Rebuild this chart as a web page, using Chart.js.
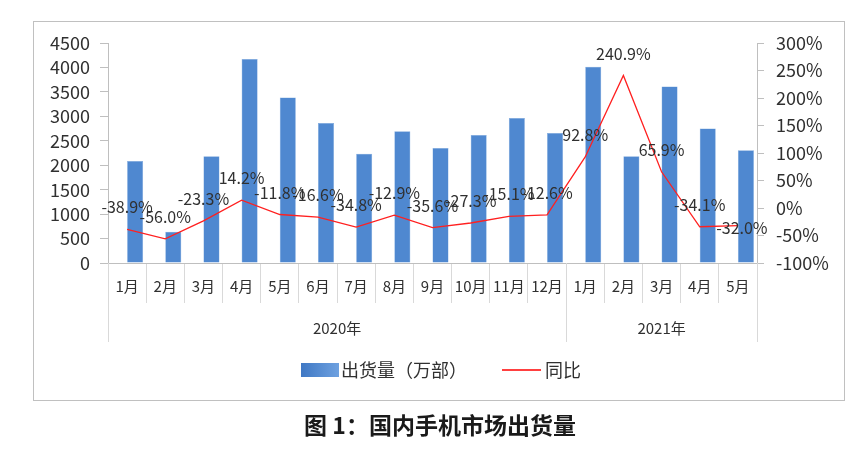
<!DOCTYPE html>
<html>
<head>
<meta charset="utf-8">
<script src="https://cdn.jsdelivr.net/npm/chart.js@4"></script>
<style>
  html, body { margin: 0; padding: 0; background: #fff; }
  #wrap { width: 864px; height: 449px; }
</style>
</head>
<body>
<div id="wrap"><canvas id="myChart"></canvas></div>
<script>
const months = ['1月', '2月', '3月', '4月', '5月', '6月', '7月', '8月', '9月', '10月', '11月', '12月', '1月', '2月', '3月', '4月', '5月'];
const years = ['2020年', '2021年'];
const yearSpans = [12, 5];
const shipments = [2085, 639, 2184, 4173, 3386, 2865, 2236, 2694, 2350, 2616, 2968, 2660, 4012, 2185, 3610, 2750, 2304];
const yoy = [-38.9, -56.0, -23.3, 14.2, -11.8, -16.6, -34.8, -12.9, -35.6, -27.3, -15.1, -12.6, 92.8, 240.9, 65.9, -34.1, -32.0];
const legendNames = ['出货量（万部）', '同比'];
const titleText = '图 1：国内手机市场出货量';

const FONT = "'Noto Sans CJK SC', 'Noto Sans', sans-serif";
const TXT = '#303030';
const BAR = '#4f88d0';

// labels on the red line
const lineLabels = {
    id: 'lineLabels',
    afterDatasetsDraw(chart) {
        const ctx = chart.ctx;
        const meta = chart.getDatasetMeta(2);
        ctx.save();
        ctx.font = '16px ' + FONT;
        ctx.fillStyle = TXT;
        ctx.textAlign = 'center';
        ctx.textBaseline = 'middle';
        meta.data.forEach((pt, i) => {
            let dx = 0, dy = -22;
            if (i === yoy.length - 1) { dx = 4; dy = 2; }
            ctx.fillText(yoy[i].toFixed(1) + '%', pt.x + dx, pt.y + dy);
        });
        ctx.restore();
    }
};

// border, year row, legend and caption
const frame = {
    id: 'frame',
    afterDraw(chart) {
        const ctx = chart.ctx;
        const area = chart.chartArea;
        const step = (area.right - area.left) / months.length;
        ctx.save();
        ctx.strokeStyle = '#c0c0c0';
        ctx.lineWidth = 1;
        ctx.strokeRect(33.5, 21.5, 811, 379);

        // year grouping
        ctx.strokeStyle = '#d9d9d9';
        ctx.font = '15px ' + FONT;
        ctx.fillStyle = TXT;
        ctx.textAlign = 'center';
        ctx.textBaseline = 'middle';
        let start = 0;
        const edges = [0];
        yearSpans.forEach((n, k) => {
            const l = area.left + start * step;
            const r = area.left + (start + n) * step;
            ctx.fillText(years[k], (l + r) / 2, 328);
            start += n;
            edges.push(start);
        });
        edges.forEach(e => {
            const px = Math.round(area.left + e * step) + 0.5;
            ctx.beginPath();
            ctx.moveTo(px, area.bottom);
            ctx.lineTo(px, 342);
            ctx.stroke();
        });

        // legend
        const g = ctx.createLinearGradient(301, 0, 339, 0);
        g.addColorStop(0, '#3f78c4');
        g.addColorStop(1, '#6ea1e0');
        ctx.fillStyle = g;
        ctx.fillRect(301, 363, 38, 14);
        ctx.font = '18px ' + FONT;
        ctx.fillStyle = TXT;
        ctx.textAlign = 'left';
        ctx.fillText(legendNames[0], 341, 370);
        ctx.strokeStyle = 'red';
        ctx.lineWidth = 1.5;
        ctx.beginPath();
        ctx.moveTo(502, 370);
        ctx.lineTo(541, 370);
        ctx.stroke();
        ctx.fillText(legendNames[1], 545, 370);

        // caption
        ctx.font = 'bold 23px ' + FONT;
        ctx.fillStyle = '#1a1a1a';
        ctx.textAlign = 'center';
        ctx.fillText(titleText, 440, 425);
        ctx.restore();
    }
};

var ctx = document.getElementById('myChart').getContext('2d');
// eslint-disable-next-line no-undef
new Chart(ctx, {
    type: 'bar',
    data: {
        labels: months,
        datasets: [
            { // empty slot so the bars sit right of the category centre
                data: months.map(() => null),
                backgroundColor: 'rgba(0,0,0,0)',
                yAxisID: 'y',
                order: 1
            },
            {
                label: legendNames[0],
                data: shipments,
                backgroundColor: BAR,
                borderColor: '#7aa6dc',
                borderWidth: 0.5,
                yAxisID: 'y',
                order: 2
            },
            {
                type: 'line',
                label: legendNames[1],
                data: yoy,
                borderColor: '#ff2020',
                borderWidth: 1.3,
                pointRadius: 0,
                tension: 0,
                yAxisID: 'y1',
                order: 0
            }
        ]
    },
    options: {
        responsive: true,
        maintainAspectRatio: false,
        animation: false,
        datasets: {
            bar: { categoryPercentage: 0.84, barPercentage: 1.0 }
        },
        layout: { padding: { left: 40, right: 20, top: 43, bottom: 106 } },
        plugins: {
            legend: { display: false },
            tooltip: { enabled: false }
        },
        scales: {
            x: {
                offset: true,
                grid: { offset: true, drawOnChartArea: false, drawTicks: true, tickLength: 40, color: '#d9d9d9' },
                border: { color: '#bfbfbf' },
                ticks: {
                    autoSkip: false, maxRotation: 0, padding: -26,
                    color: TXT, font: { family: FONT, size: 15 }
                },
                afterFit(scale) { scale.height = 80; }
            },
            y: {
                position: 'left',
                min: 0, max: 4500,
                ticks: {
                    stepSize: 500, autoSkip: false, padding: 10, color: TXT, font: { family: FONT, size: 18 },
                    callback: v => String(v)
                },
                grid: { drawOnChartArea: false, tickLength: 8, color: '#bfbfbf' },
                border: { color: '#bfbfbf' },
                afterFit(scale) { scale.width = 68; }
            },
            y1: {
                position: 'right',
                min: -100, max: 300,
                ticks: {
                    stepSize: 50, autoSkip: false, padding: 12, color: TXT, font: { family: FONT, size: 18 },
                    callback: v => v + '%'
                },
                grid: { drawOnChartArea: false, tickLength: 7, color: '#bfbfbf' },
                border: { color: '#bfbfbf' },
                afterFit(scale) { scale.width = 87; }
            }
        }
    },
    plugins: [lineLabels, frame]
});
</script>
</body>
</html>
